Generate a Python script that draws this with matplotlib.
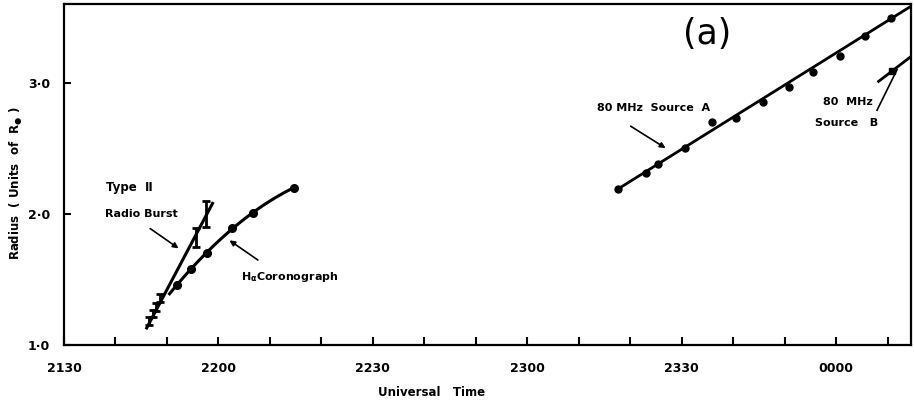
import numpy as np
import matplotlib
matplotlib.use("Agg")
import matplotlib.pyplot as plt

plt.rcParams['font.family'] = ['DejaVu Sans']
plt.rcParams['mathtext.default'] = 'bf'

# time in minutes after 2130 UT
tick_minutes = [0, 10, 20, 30, 40, 50, 60, 70, 80, 90, 100, 110, 120, 130, 140, 150, 160]
tick_labels = ["2130", "", "", "2200", "", "", "2230", "", "", "2300", "", "", "2330", "", "", "0000", ""]
r_ticks = [1.0, 2.0, 3.0]
r_tick_labels = ["1·0", "2·0", "3·0"]

# H-alpha coronograph
halpha_t = [21.9, 24.7, 27.8, 32.6, 36.7, 44.7]
halpha_r = [1.46, 1.58, 1.70, 1.89, 2.01, 2.20]
halpha_start = 20.5

# type II radio burst
burst_t = [16.5, 17.3, 17.9, 18.65, 25.7, 27.6]
burst_r = [1.18, 1.24, 1.29, 1.36, 1.82, 2.00]
burst_err = [0.03, 0.03, 0.03, 0.03, 0.07, 0.10]
burst_line_t = [16.07, 28.85]
burst_line_r = [1.13, 2.08]

# 80 MHz source A
srcA_t = [107.6, 113.1, 115.4, 120.6, 125.8, 130.6, 135.8, 140.8, 145.5, 150.7, 155.5, 160.7]
srcA_r = [2.19, 2.31, 2.38, 2.50, 2.70, 2.73, 2.85, 2.97, 3.08, 3.20, 3.36, 3.49]
srcA_line_t = [107.6, 166.0]
srcA_line_r = [2.19, 3.62]

# 80 MHz source B
srcB_t = [160.8]
srcB_r = [3.09]
srcB_line_t = [158.2, 166.0]
srcB_line_r = [3.01, 3.245]

fig = plt.figure(figsize=(9.14, 4.04), dpi=100)
ax = fig.add_axes([0.070, 0.146, 0.9267, 0.844])

# H-alpha smooth curve
coef = np.polyfit(halpha_t, halpha_r, 2)
tt = np.linspace(halpha_start, halpha_t[-1], 60)
ax.plot(tt, np.polyval(coef, tt), color="black", lw=2.2)
ax.plot(halpha_t, halpha_r, "o", color="black", ms=5.5)

# type II burst
ax.plot(burst_line_t, burst_line_r, color="black", lw=2.2)
ax.errorbar(burst_t, burst_r, yerr=burst_err, fmt="none", ecolor="black",
            elinewidth=2, capsize=3, capthick=2)

# source A and B
ax.plot(srcA_line_t, srcA_line_r, color="black", lw=2)
ax.plot(srcA_t, srcA_r, "o", color="black", ms=5)
ax.plot(srcB_line_t, srcB_line_r, color="black", lw=2)
ax.plot(srcB_t, srcB_r, "s", color="black", ms=5)

ax.set_xlim(0, 164.5)
ax.set_ylim(1.0, 3.6)
ax.set_xticks(tick_minutes)
ax.set_xticklabels(tick_labels, fontsize=9, fontweight="bold")
ax.set_yticks(r_ticks)
ax.set_yticklabels(r_tick_labels, fontsize=9, fontweight="bold")
ax.tick_params(axis="x", direction="in", length=6, width=1.5, pad=12)
ax.tick_params(axis="y", direction="in", length=5, width=1.5, pad=10)
for sp in ax.spines.values():
    sp.set_linewidth(1.6)

# annotations
arrow = dict(arrowstyle="-|>", lw=1.2, color="black", mutation_scale=8)
kw = dict(fontsize=8, fontweight="bold", va="center", ha="left")
ax.text(8.2, 2.20, "Type  Ⅱ", fontsize=8.5, fontweight="bold", va="center", ha="left")
ax.text(8.0, 2.00, "Radio Burst", **kw)
ax.annotate("", xy=(22.7, 1.725), xytext=(16.3, 1.90), arrowprops=arrow)
ax.text(34.4, 1.52, r"H$_{\alpha}$Coronograph", **kw)
ax.annotate("", xy=(31.7, 1.81), xytext=(38.1, 1.636), arrowprops=arrow)
ax.text(103.6, 2.81, "80 MHz  Source  A", **kw)
ax.annotate("", xy=(117.3, 2.49), xytext=(109.6, 2.68), arrowprops=arrow)
ax.text(147.5, 2.85, "80  MHz", **kw)
ax.text(145.9, 2.69, "Source   B", **kw)
ax.plot([157.9, 161.8], [2.79, 3.10], color="black", lw=1.2)
ax.text(124.9, 3.37, "(a)", fontsize=25, ha="center", va="center")

fig.text(432 / 914, 1 - 393 / 404, "Universal   Time", fontsize=8.5, fontweight="bold",
         ha="center", va="center")
fig.text(16 / 914, 1 - 183 / 404, r"Radius  ( Units  of  R$_{●}$ )", fontsize=8.5,
         fontweight="bold", rotation=90, ha="center", va="center")

fig.savefig("out.png", dpi=100)
